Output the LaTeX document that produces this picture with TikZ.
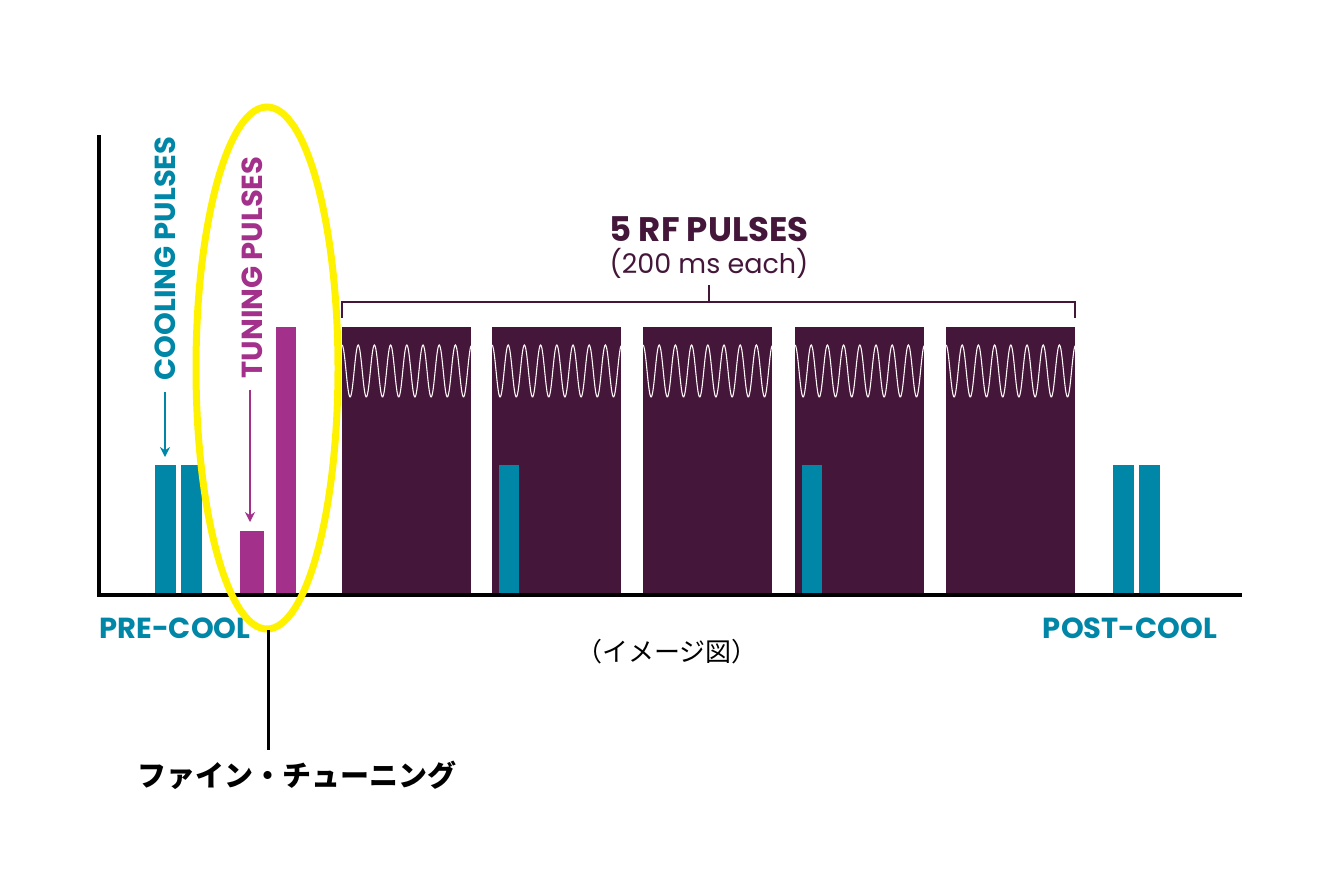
\documentclass[tikz,border=0pt]{standalone}
\usepackage{fontspec}
\usetikzlibrary{arrows.meta}
\setmainfont{Poppins}
\newfontfamily\jpfont{Noto Sans CJK JP}
\definecolor{teal}{HTML}{0087A8}
\definecolor{tune}{HTML}{A3308A}
\definecolor{rfpurple}{HTML}{43163A}
\begin{document}
\begin{tikzpicture}[x=1pt,y=-1pt,
  lbl/.style={font=\bfseries\fontsize{29}{29}\selectfont},
  bar/.style={draw=none}]
\useasboundingbox[fill=white] (0,0) rectangle (1340,876);
% Drawing axes
\draw[line width=3.5pt] (99,135) -- (99,595) -- (1242,595);
% Cooling pulses
\foreach \a/\b in {155/176,181/202,1113/1134,1139/1160}
  \fill[teal] (\a,465) rectangle (\b,593);
% Tuning pulses
\fill[tune] (240,531) rectangle (264,593);
\fill[tune] (276,327) rectangle (296,593);
% RF pulses with waves
\foreach \s in {342,492,643,795,946}{
  \fill[rfpurple] (\s,327) rectangle (\s+129,593);
  \begin{scope}
  \clip (\s,330) rectangle (\s+129,420);
  \draw[white!85!pink,line width=1.1pt,domain=0:129,samples=200,smooth]
    plot ({\s+\x},{371-26*cos(\x/16.2*360)});
  \end{scope}
}
\fill[teal] (499,465) rectangle (519,593);
\fill[teal] (802,465) rectangle (822,593);
% Bracket
\draw[rfpurple,line width=2pt] (342,318) -- (342,302) -- (1075,302) -- (1075,318);
\draw[rfpurple,line width=2pt] (709,302) -- (709,285);
\node[text=rfpurple,font=\bfseries\fontsize{34}{34}\selectfont] (rf) at (709,229) {5 RF PULSES};
\node[text=rfpurple,font=\fontsize{27}{27}\selectfont] (each) at (709,263) {(200 ms each)};
% Vertical labels
\node[text=teal,lbl,rotate=90,anchor=east] (cool) at (165,133) {COOLING PULSES};
\coordinate (coolend) at (165,457);
\draw[teal,line width=2.5pt,-{Stealth[length=10pt,width=10pt]}] (cool.west) ++(0,8) -- (coolend);
\node[text=tune,lbl,rotate=90,anchor=east] (tunelbl) at (252,153) {TUNING PULSES};
\coordinate (tuneend) at (250,522);
\draw[tune,line width=2.5pt,-{Stealth[length=10pt,width=10pt]}] (tunelbl.west) ++(-2,8) -- (tuneend);
% Bottom labels
\node[text=teal,lbl] (pre) at (175,628) {PRE-COOL};
\node[text=teal,lbl] (post) at (1130,628) {POST-COOL};
\node[font=\jpfont\fontsize{26}{26}\selectfont] (img) at (667,652) {（イメージ図）};
% Highlight
\draw[yellow,line width=7pt] (267,368) ellipse (71pt and 261pt);
\coordinate (ellbot) at (268,630);
\node[font=\jpfont\bfseries\fontsize{29}{29}\selectfont,anchor=west] (fine) at (134,775) {ファイン・チューニング};
\draw[line width=3pt] (ellbot) -- (268,750);
\end{tikzpicture}
\end{document}
